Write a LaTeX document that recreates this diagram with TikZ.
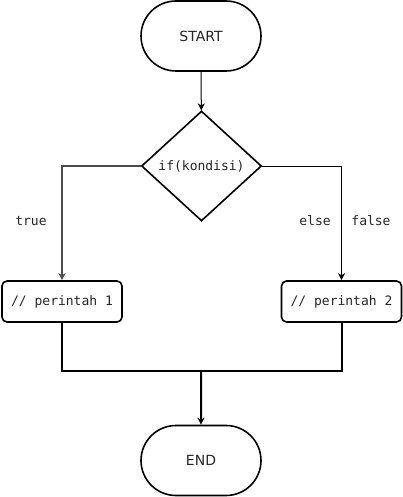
\documentclass[tikz,border=0pt]{standalone}
\usepackage{fontspec}
\setmainfont{DejaVu Sans}
\newfontfamily\codefont{DejaVu Sans Mono}
\usetikzlibrary{shapes.misc,shapes.geometric,arrows.meta}
\begin{document}
\begin{tikzpicture}[x=1pt,y=-1pt,
  every node/.style={text=black!85, inner sep=0pt},
  terminal/.style={draw, line width=1.6pt, rounded rectangle, minimum width=120pt, minimum height=70pt, font=\fontsize{14}{16}\selectfont},
  decision/.style={draw, line width=1.6pt, diamond, minimum width=120pt, minimum height=110pt, font=\codefont\fontsize{13}{15}\selectfont},
  process/.style={draw, line width=1.6pt, rounded corners=5pt, minimum width=120pt, minimum height=41pt, font=\codefont\fontsize{13}{15}\selectfont},
  lbl/.style={font=\codefont\fontsize{13}{15}\selectfont},
  thinline/.style={line width=1pt},
  thickline/.style={line width=2pt},
  tip/.style={-{Stealth[length=7pt,width=7pt,inset=2pt]}}]
\useasboundingbox (0,0) rectangle (402,497);
\node[terminal] (start) at (201,36) {START};
\node[decision] (cond) at (201.5,166) {if(kondisi)};
\node[process] (p1) at (62,301.5) {// perintah 1};
\node[process] (p2) at (341.5,301.5) {// perintah 2};
\node[terminal] (stop) at (201,460.5) {END};
\coordinate (merge) at (201,371);
% branch labels
\node[lbl] (ltrue) at (31,221) {true};
\node[lbl] (lelse) at (315,221) {else};
\node[lbl] (lfalse) at (371,221) {false};
% connectors
\draw[thinline,tip] (start) -- (cond);
\draw[thinline,tip,draw=black!70,line width=1.4pt] (cond.west) -| (p1.north);
\draw[thinline,tip] (cond.east) -| (p2.north);
\draw[thickline] (p1.south) |- (merge) -| (p2.south);
\draw[thickline,tip] (merge) -- (stop);
\end{tikzpicture}
\end{document}
